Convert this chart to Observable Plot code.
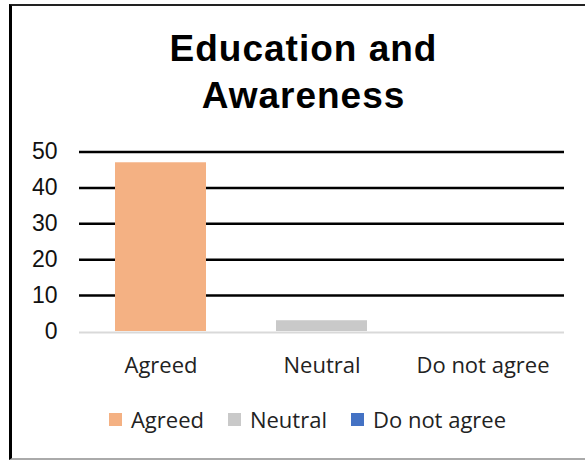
<!DOCTYPE html>
<html>
<head>
<meta charset="utf-8">
<script src="https://cdn.jsdelivr.net/npm/d3@7"></script>
<script src="https://cdn.jsdelivr.net/npm/@observablehq/plot@0.6"></script>
<style>
  html, body { margin: 0; padding: 0; background: #fff; }
  body { width: 585px; height: 461px; position: relative; overflow: hidden; }
  #frame { position: absolute; left: 9px; top: 4px; width: 600px; height: 452px;
           border-left: 3px solid #000; border-top: 2px solid #222; border-bottom: 2px solid #aaa; }
  #title { position: absolute; left: 0; top: 25px; width: 607px; text-align: center;
           font-family: "Liberation Sans", Arial, sans-serif; font-weight: bold; font-size: 37px;
           line-height: 47px; letter-spacing: 1px; color: #000; }
  #chart { position: absolute; left: 0; top: 130px; }
  #legend { position: absolute; left: 0; top: 404px; width: 615px; display: flex; justify-content: center;
            align-items: center; font-family: "Open Sans", sans-serif; font-size: 22px; color: #222; }
  .item { display: flex; align-items: center; margin: 0 12px; }
  .sw { width: 13px; height: 13px; margin-right: 9px; }
</style>
</head>
<body>
<div id="frame"></div>
<div id="title">Education and<br>Awareness</div>
<div id="chart"></div>
<div id="legend"></div>
<script>
const categories = ["Agreed", "Neutral", "Do not agree"];
const values = [47, 3, 0];
const colors = ["#F4B183", "#C9C9C9", "#4472C4"];
const yTicks = [0, 10, 20, 30, 40, 50];

const data = categories.map((c, i) => ({category: c, value: values[i]}));

const plot = Plot.plot({
  width: 585,
  height: 250,
  marginLeft: 79,
  marginRight: 21,
  marginTop: 21.5,
  marginBottom: 49,
  style: {background: "transparent"},
  x: {domain: categories, padding: 0, label: null},
  y: {domain: [0, 50], label: null},
  color: {domain: categories, range: colors},
  marks: [
    Plot.ruleY(yTicks.filter(d => d > 0), {stroke: "#000", strokeWidth: 2.5}),
    Plot.barY(data, {x: "category", y: "value", fill: "category", insetLeft: 35, insetRight: 35}),
    Plot.ruleY([0], {stroke: "#d9d9d9", strokeWidth: 2, dy: 1}),
    Plot.axisY({ticks: yTicks, tickSize: 0, tickPadding: 22, fontSize: 23, label: null,
                fontFamily: "Liberation Sans, Arial, sans-serif", fill: "#111"}),
    Plot.axisX({tickSize: 0, tickPadding: 26, fontSize: 22, label: null,
                fontFamily: "Open Sans, sans-serif", fill: "#222"})
  ]
});
document.getElementById("chart").appendChild(plot);

const legend = document.getElementById("legend");
categories.forEach((c, i) => {
  const item = document.createElement("div");
  item.className = "item";
  const sw = document.createElement("span");
  sw.className = "sw";
  sw.style.background = colors[i];
  const lab = document.createElement("span");
  lab.textContent = c;
  item.appendChild(sw);
  item.appendChild(lab);
  legend.appendChild(item);
});
</script>
</body>
</html>
